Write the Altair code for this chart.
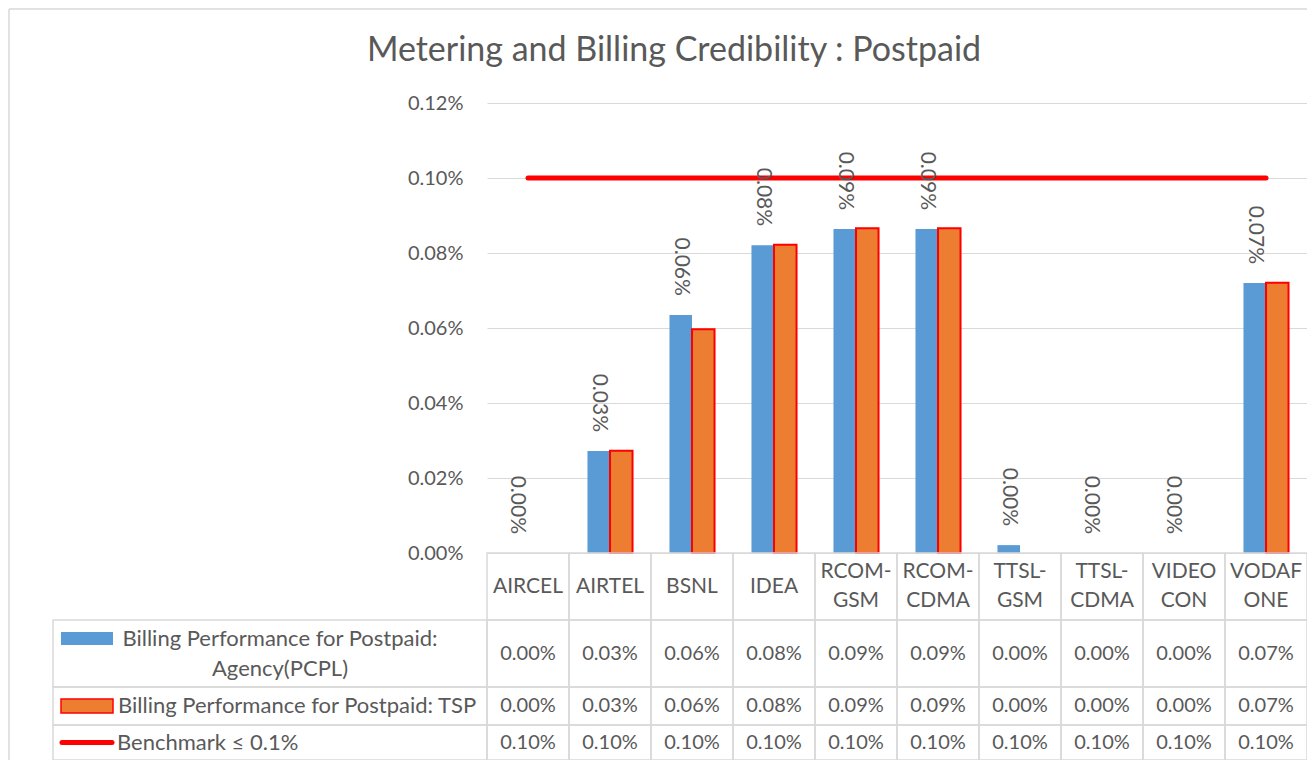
import altair as alt
import pandas as pd

# ---------------- data ----------------
categories = ["AIRCEL", "AIRTEL", "BSNL", "IDEA", "RCOM-GSM", "RCOM-CDMA",
              "TTSL-GSM", "TTSL-CDMA", "VIDEOCON", "VODAFONE"]
header_labels = ["AIRCEL", "AIRTEL", "BSNL", "IDEA", "RCOM-\nGSM", "RCOM-\nCDMA",
                 "TTSL-\nGSM", "TTSL-\nCDMA", "VIDEO\nCON", "VODAF\nONE"]
agency = [0.0, 0.0272, 0.0635, 0.0821, 0.0864, 0.0864, 0.0021, 0.0, 0.0, 0.0720]
tsp = [0.0, 0.0273, 0.0597, 0.0822, 0.0866, 0.0866, 0.0, 0.0, 0.0, 0.0721]
benchmark = [0.10, 0.10, 0.10, 0.10, 0.10, 0.10, 0.10, 0.10, 0.10, 0.10]
series_keys = ["agency", "tsp", "bench"]
series_names = ["Billing Performance for Postpaid:\nAgency(PCPL)",
                "Billing Performance for Postpaid: TSP",
                "Benchmark \u2264 0.1%"]
y_ticks = [0.0, 0.02, 0.04, 0.06, 0.08, 0.10, 0.12]
title_text = "Metering and Billing Credibility : Postpaid"

rows = []
for key, vals in zip(series_keys, [agency, tsp, benchmark]):
    for c, h, v in zip(categories, header_labels, vals):
        rows.append({"cat": c, "header": h, "key": key, "value": v})
df = pd.DataFrame(rows)

# ---------------- styles ----------------
FONT = "Lato"
GRAY = "#595959"
BLUE = "#5b9bd5"
ORANGE = "#ed7d31"
RED = "#ff0000"
LINE = "#d9d9d9"
W, H = 820, 450

xscale = alt.Scale(domain=categories, paddingInner=0, paddingOuter=0)
yscale = alt.Scale(domain=[0, 0.12], nice=False)
xoff_scale = alt.Scale(domain=["agency", "tsp"], paddingInner=0, paddingOuter=0.82)

X = alt.X("cat:N", scale=xscale, axis=None)
XO = alt.XOffset("key:N", scale=xoff_scale)

yaxis = alt.Axis(values=y_ticks, labelExpr="format(datum.value, '.2f') + '%'",
                 domain=False, ticks=False, labelPadding=24, labelFont=FONT,
                 labelFontSize=20, labelColor=GRAY, gridColor=LINE, gridWidth=1.2,
                 title=None)

base = alt.Chart(df)

bars = base.transform_filter("datum.key != 'bench'").mark_bar().encode(
    x=X, xOffset=XO,
    y=alt.Y("value:Q", scale=yscale, axis=yaxis),
    color=alt.Color("key:N", scale=alt.Scale(domain=["agency", "tsp"], range=[BLUE, ORANGE]), legend=None),
    stroke=alt.condition("datum.key == 'tsp' && datum.value > 0", alt.value(RED), alt.value("transparent")),
    strokeWidth=alt.value(2),
)

labels = base.transform_filter("datum.key == 'agency'").transform_calculate(
    lab="format(datum.value, '.2f') + '%'"
).mark_text(angle=90, align="right", baseline="middle", dx=-19, font=FONT,
            fontSize=21, color=GRAY).encode(
    x=X, xOffset=XO, y=alt.Y("value:Q", scale=yscale), text="lab:N"
)

bench_line = base.transform_filter("datum.key == 'bench'").mark_line(
    color=RED, strokeWidth=5, strokeCap="round").encode(
    x=X, y=alt.Y("value:Q", scale=yscale)
)

# ---------------- data table ----------------
HDR = (450, 517)
ROWS = {"agency": (517, 584), "tsp": (584, 622), "bench": (622, 657)}
LEFT = -434

one = pd.DataFrame({"a": [0]})
layers = [bars, bench_line, labels]

hdr_df = df[df.key == "agency"]
hdr = alt.Chart(hdr_df)
layers.append(hdr.mark_rect(fill="transparent", stroke=LINE, strokeWidth=1.5).encode(
    x=X, y=alt.value(HDR[0]), y2=alt.value(HDR[1])))
layers.append(hdr.transform_filter("indexof(datum.header, '\\n') < 0").mark_text(
    font=FONT, fontSize=21, color=GRAY, baseline="middle").encode(
    x=X, y=alt.value((HDR[0] + HDR[1]) / 2), text="header:N"))
layers.append(hdr.transform_filter("indexof(datum.header, '\\n') >= 0").mark_text(
    font=FONT, fontSize=21, color=GRAY, baseline="middle", lineBreak="\n",
    lineHeight=29, dy=-14.5).encode(
    x=X, y=alt.value((HDR[0] + HDR[1]) / 2), text="header:N"))

for key, name in zip(series_keys, series_names):
    top, bot = ROWS[key]
    sub = base.transform_filter(f"datum.key == '{key}'")
    layers.append(sub.mark_rect(fill="transparent", stroke=LINE, strokeWidth=1.5).encode(
        x=X, y=alt.value(top), y2=alt.value(bot)))
    layers.append(sub.transform_calculate(lab="format(datum.value, '.2f') + '%'").mark_text(
        font=FONT, fontSize=20, color=GRAY, baseline="middle").encode(
        x=X, y=alt.value((top + bot) / 2), text="lab:N"))
    layers.append(alt.Chart(one).mark_rect(fill="transparent", stroke=LINE, strokeWidth=1.5).encode(
        x=alt.value(LEFT), x2=alt.value(0), y=alt.value(top), y2=alt.value(bot)))
    name_df = pd.DataFrame({"name": [name]})
    if key == "agency":
        layers.append(alt.Chart(name_df).mark_text(font=FONT, fontSize=22, color=GRAY, baseline="middle",
                                                   align="center", lineBreak="\n", lineHeight=30,
                                                   dy=-15).encode(
            x=alt.value(-207), y=alt.value((top + bot) / 2), text="name:N"))
        layers.append(alt.Chart(one).mark_rect(color=BLUE).encode(
            x=alt.value(-426), x2=alt.value(-374), y=alt.value(529), y2=alt.value(542)))
    elif key == "tsp":
        layers.append(alt.Chart(name_df).mark_text(font=FONT, fontSize=22, color=GRAY, baseline="middle",
                                                   align="left").encode(
            x=alt.value(-369), y=alt.value((top + bot) / 2), text="name:N"))
        layers.append(alt.Chart(one).mark_rect(color=ORANGE, stroke=RED, strokeWidth=1.5).encode(
            x=alt.value(-426), x2=alt.value(-374), y=alt.value(596), y2=alt.value(610)))
    else:
        layers.append(alt.Chart(name_df).mark_text(font=FONT, fontSize=22, color=GRAY, baseline="middle",
                                                   align="left").encode(
            x=alt.value(-370), y=alt.value((top + bot) / 2), text="name:N"))
        layers.append(alt.Chart(one).mark_rule(color=RED, strokeWidth=5, strokeCap="round").encode(
            x=alt.value(-425), x2=alt.value(-375), y=alt.value((top + bot) / 2)))

# chart title and outer border
layers.append(alt.Chart(pd.DataFrame({"t": [title_text]})).mark_text(
    font=FONT, fontSize=34, color=GRAY, baseline="alphabetic", align="center").encode(
    x=alt.value(187), y=alt.value(-42), text="t:N"))
layers.append(alt.Chart(one).mark_rule(color=LINE, strokeWidth=1.5).encode(
    x=alt.value(-478), x2=alt.value(W), y=alt.value(-94)))
layers.append(alt.Chart(one).mark_rule(color=LINE, strokeWidth=1.5).encode(
    x=alt.value(-478), y=alt.value(-94), y2=alt.value(H + 207)))

chart = alt.layer(*layers).properties(
    width=W, height=H,
    autosize=alt.AutoSizeParams(type="none"),
    padding={"left": 479, "top": 95, "right": 0, "bottom": 207},
).configure_view(stroke=None)

chart.save("out.html", embed_options={"renderer": "svg", "actions": False})
